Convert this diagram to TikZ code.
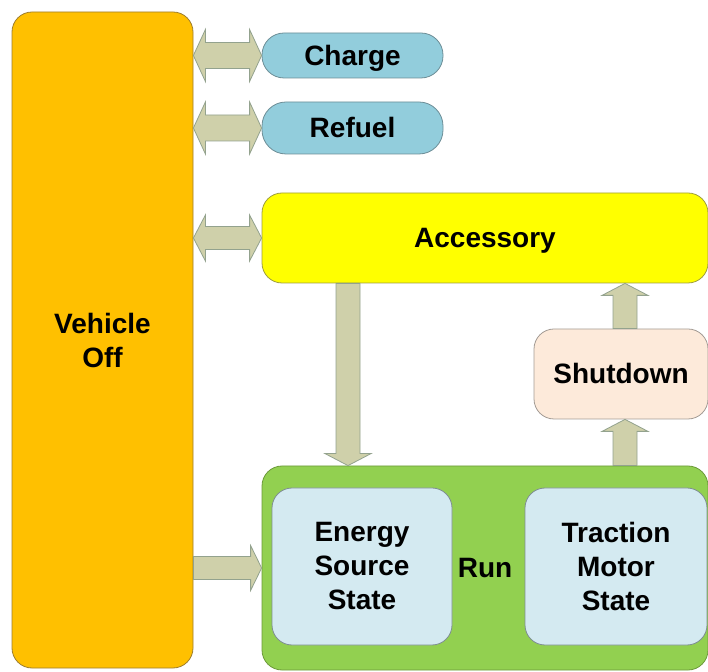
\documentclass[tikz,border=0pt]{standalone}
\usepackage{fontspec}
\setmainfont{Liberation Sans}
\usetikzlibrary{calc}
\definecolor{voffcol}{RGB}{255,192,0}
\definecolor{voffline}{RGB}{158,126,46}
\definecolor{bluecol}{RGB}{146,205,220}
\definecolor{blueline}{RGB}{108,141,150}
\definecolor{acccol}{RGB}{255,255,0}
\definecolor{accline}{RGB}{158,158,62}
\definecolor{shutcol}{RGB}{253,234,218}
\definecolor{shutline}{RGB}{163,155,148}
\definecolor{runcol}{RGB}{146,208,80}
\definecolor{runline}{RGB}{108,154,58}
\definecolor{innercol}{RGB}{212,234,241}
\definecolor{innerline}{RGB}{126,142,146}
\definecolor{arrfill}{RGB}{207,208,170}
\definecolor{arrline}{RGB}{147,162,142}
\tikzset{
    state/.style={draw, line width=0.8pt, rounded corners=20pt, align=center, inner sep=0pt,
        font=\bfseries\fontsize{28}{34}\selectfont},
    oneline/.style={text height=20pt, text depth=0pt},
    blockarr/.style={draw=arrline, fill=arrfill, line width=0.8pt, line join=miter}
}
% double block arrow, left tip to right tip
\newcommand{\dblarr}[4]{%
  \draw[blockarr] let \p1=(#1), \p2=(#2) in
    (\p1) -- ({\x1+12pt},{\y1+#4}) -- ({\x1+12pt},{\y1+#3}) -- ({\x2-12pt},{\y1+#3})
    -- ({\x2-12pt},{\y1+#4}) -- (\x2,\y1) -- ({\x2-12pt},{\y1-#4}) -- ({\x2-12pt},{\y1-#3})
    -- ({\x1+12pt},{\y1-#3}) -- ({\x1+12pt},{\y1-#4}) -- cycle;}
% single block arrow pointing right
\newcommand{\harr}[4]{%
  \draw[blockarr] let \p1=(#1), \p2=(#2) in
    ({\x1},{\y1+#3}) -- ({\x2-11pt},{\y1+#3}) -- ({\x2-11pt},{\y1+#4}) -- (\x2,\y1)
    -- ({\x2-11pt},{\y1-#4}) -- ({\x2-11pt},{\y1-#3}) -- ({\x1},{\y1-#3}) -- cycle;}
% single block arrow, vertical (#5 = head length, signed)
\newcommand{\varr}[5]{%
  \draw[blockarr] let \p1=(#1), \p2=(#2) in
    ({\x1-#3},{\y1}) -- ({\x1-#3},{\y2+#5}) -- ({\x1-#4},{\y2+#5}) -- (\x1,\y2)
    -- ({\x1+#4},{\y2+#5}) -- ({\x1+#3},{\y2+#5}) -- ({\x1+#3},{\y1}) -- cycle;}

\begin{document}
\begin{tikzpicture}[x=1pt,y=1pt]
\useasboundingbox (0,0) rectangle (708,671);
% states
\node[state, fill=voffcol, draw=voffline, minimum width=181pt, minimum height=656pt] (voff) at (102.5,331) {Vehicle\\Off};
\node[state, oneline, fill=bluecol, draw=blueline, rounded corners=22pt, minimum width=181pt, minimum height=45pt] (charge) at (352.5,615.5) {Charge};
\node[state, oneline, fill=bluecol, draw=blueline, rounded corners=24pt, minimum width=181pt, minimum height=52pt] (refuel) at (352.5,543) {Refuel};
\node[state, oneline, fill=acccol, draw=accline, minimum width=446pt, minimum height=90pt] (acc) at (485,433) {Accessory};
\node[state, oneline, fill=shutcol, draw=shutline, minimum width=174pt, minimum height=90pt] (shut) at (621,297) {Shutdown};
\node[state, oneline, fill=runcol, draw=runline, minimum width=446pt, minimum height=204pt] (run) at (485,103) {Run};
\node[state, fill=innercol, draw=innerline, minimum width=180pt, minimum height=157pt] (energy) at (362,104.5) {Energy\\Source\\State};
\node[state, fill=innercol, draw=innerline, minimum width=182pt, minimum height=157pt] (traction) at (616,104.5) {Traction\\Motor\\State};
% arrows
\coordinate (dn) at (348,0);
\coordinate (up) at (625,0);
\dblarr{voff.east |- charge.west}{charge.west}{13pt}{26pt}
\dblarr{voff.east |- refuel.west}{refuel.west}{13pt}{26pt}
\dblarr{voff.east |- acc.west}{acc.west}{11.5pt}{23pt}
\harr{voff.east |- run.west}{run.west}{11.5pt}{22.5pt}
\varr{dn |- acc.south}{dn |- run.north}{12pt}{23pt}{12pt}
\varr{up |- run.north}{up |- shut.south}{12pt}{23pt}{-12pt}
\varr{up |- shut.north}{up |- acc.south}{12pt}{23pt}{-12pt}
\end{tikzpicture}
\end{document}
